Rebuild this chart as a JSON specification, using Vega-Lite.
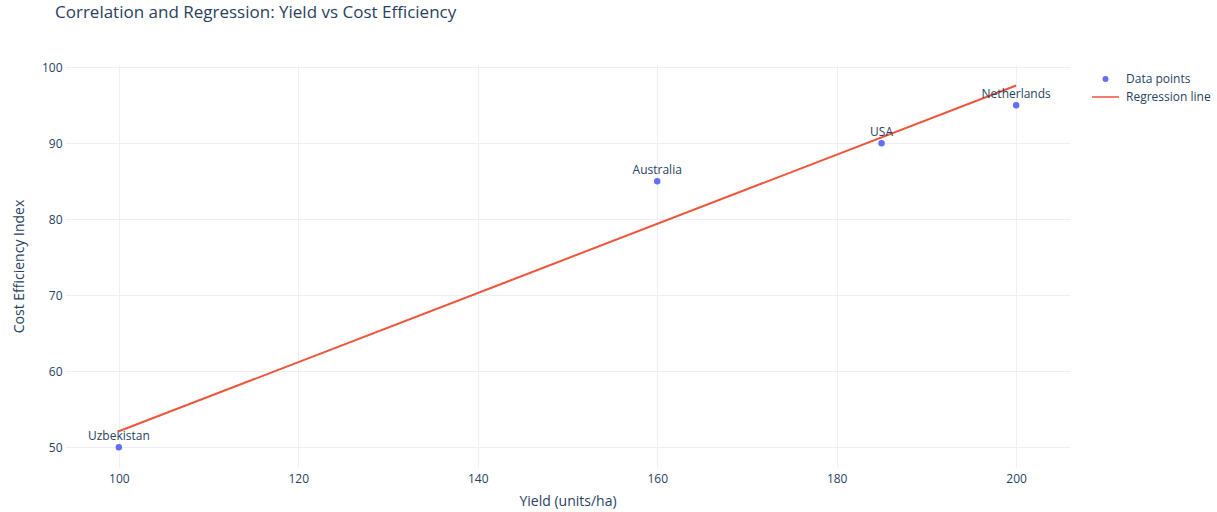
{
  "$schema": "https://vega.github.io/schema/vega-lite/v6.json",
  "autosize": {"type": "none"},
  "padding": {"left": 65, "top": 65, "right": 147, "bottom": 45},
  "width": 1005,
  "height": 402,
  "background": "white",
  "title": {
    "text": "Correlation and Regression: Yield vs Cost Efficiency",
    "anchor": "start",
    "frame": "group",
    "dx": -10,
    "offset": 39,
    "font": "Open Sans",
    "fontSize": 17,
    "fontWeight": "normal",
    "color": "#2a3f5f"
  },
  "config": {
    "view": {"stroke": null},
    "font": "Open Sans",
    "axis": {
      "gridColor": "#ebf0f8",
      "gridWidth": 1,
      "domain": false,
      "ticks": false,
      "labelFont": "Open Sans",
      "labelFontSize": 12,
      "labelColor": "#2a3f5f",
      "titleFont": "Open Sans",
      "titleFontSize": 14,
      "titleFontWeight": "normal",
      "titleColor": "#2a3f5f"
    },
    "legend": {
      "labelFont": "Open Sans",
      "labelFontSize": 12,
      "labelColor": "#2a3f5f"
    }
  },
  "datasets": {
    "points": [
      {"country": "Uzbekistan", "yield": 100, "cost": 50, "series": "Data points"},
      {"country": "Australia", "yield": 160, "cost": 85, "series": "Data points"},
      {"country": "USA", "yield": 185, "cost": 90, "series": "Data points"},
      {"country": "Netherlands", "yield": 200, "cost": 95, "series": "Data points"}
    ],
    "reg": [
      {"yield": 100, "cost": 52.1, "series": "Regression line"},
      {"yield": 200, "cost": 97.6, "series": "Regression line"}
    ]
  },
  "layer": [
    {
      "data": {"name": "reg"},
      "mark": {"type": "line", "color": "#EF553B", "strokeWidth": 2},
      "encoding": {
        "x": {
          "field": "yield", "type": "quantitative",
          "scale": {"domain": [94, 206], "nice": false, "zero": false},
          "axis": {"title": "Yield (units/ha)", "values": [100, 120, 140, 160, 180, 200], "labelPadding": 6, "titlePadding": 10}
        },
        "y": {
          "field": "cost", "type": "quantitative",
          "scale": {"domain": [47.4, 100.3], "nice": false, "zero": false},
          "axis": {"title": "Cost Efficiency Index", "values": [50, 60, 70, 80, 90, 100], "labelPadding": 3, "titlePadding": 15}
        }
      }
    },
    {
      "data": {"name": "points"},
      "mark": {"type": "point", "filled": true, "opacity": 1, "strokeWidth": 2},
      "encoding": {
        "x": {"field": "yield", "type": "quantitative"},
        "y": {"field": "cost", "type": "quantitative"},
        "color": {
          "field": "series", "type": "nominal",
          "scale": {"domain": ["Data points", "Regression line"], "range": ["#636efa", "#EF553B"]},
          "legend": {"title": null, "orient": "none", "legendX": 1026, "legendY": 7, "rowPadding": 4, "clipHeight": 14, "labelOffset": 6}
        },
        "stroke": {
          "field": "series", "type": "nominal",
          "scale": {"domain": ["Data points", "Regression line"], "range": ["#636efa", "#EF553B"]}
        },
        "shape": {
          "field": "series", "type": "nominal",
          "scale": {"domain": ["Data points", "Regression line"], "range": ["circle", "stroke"]}
        },
        "size": {
          "field": "series", "type": "nominal",
          "scale": {"domain": ["Data points", "Regression line"], "range": [20, 729]}
        }
      }
    },
    {
      "data": {"name": "points"},
      "mark": {"type": "text", "dy": -11, "fontSize": 12, "color": "#2a3f5f", "font": "Open Sans"},
      "encoding": {
        "x": {"field": "yield", "type": "quantitative"},
        "y": {"field": "cost", "type": "quantitative"},
        "text": {"field": "country", "type": "nominal"}
      }
    }
  ]
}
